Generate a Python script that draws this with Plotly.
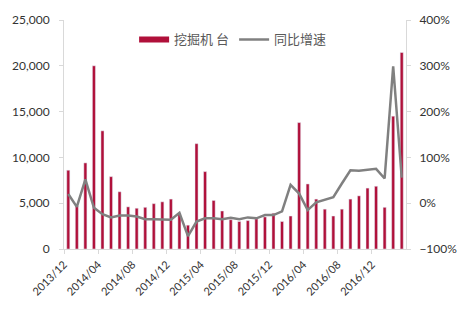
import plotly.graph_objects as go
import numpy as np

months = []
y, m = 2013, 12
for _ in range(40):
    months.append(f"{y}/{m:02d}")
    m += 1
    if m > 12:
        m = 1
        y += 1

sales = [8600, 4700, 9400, 20000, 12900, 7900, 6250, 4600, 4450, 4550,
         4950, 5150, 5450, 3900, 2600, 11500, 8450, 5300, 4150, 3200,
         3000, 3100, 3300, 3500, 3900, 3000, 3600, 13800, 7100, 5450,
         4350, 3600, 4350, 5450, 5800, 6650, 6850, 4550, 14500, 21450]

growth = [20, -8, 52, -10, -24, -31, -27, -27, -29, -35,
          -35, -35, -36, -21, -72, -40, -33, -33, -35, -32,
          -35, -31, -33, -26, -26, -18, 40, 21, -15, 2,
          8, 13, 43, 72, 71, 73, 75, 54, 299, 56]

bar_name = "挖掘机 台"
line_name = "同比增速"
bar_color = "#B0103A"
line_color = "#808080"

idx = np.arange(len(months))
tick_pos = (idx[::4] - 0.5).tolist()
tick_text = months[::4]

fig = go.Figure()
fig.add_trace(go.Bar(x=idx, y=sales, name=bar_name, marker_color=bar_color,
                     showlegend=False, yaxis="y"))
fig.add_trace(go.Scatter(x=[None], y=[None], mode="lines", name=bar_name,
                         line=dict(color=bar_color, width=6)))
fig.add_trace(go.Scatter(x=idx, y=growth, mode="lines", name=line_name,
                         line=dict(color=line_color, width=2.5), yaxis="y2"))

axis_col = "#D9D9D9"
tick_font = dict(family="Lato, Noto Sans CJK SC, sans-serif", size=12, color="#333333")

fig.update_layout(
    width=469, height=310,
    margin=dict(l=63, r=56, t=15, b=60),
    paper_bgcolor="white", plot_bgcolor="white",
    bargap=0.64,
    font=dict(family="Lato, Noto Sans CJK SC, sans-serif", size=12, color="#333333"),
    xaxis=dict(range=[-0.5, 39.5], tickmode="array", tickvals=tick_pos, ticktext=tick_text,
               tickangle=-45, showgrid=False, zeroline=False, showline=True,
               linecolor=axis_col, ticks="outside", ticklen=4, tickcolor=axis_col,
               tickfont=dict(family="Lato, Noto Sans CJK SC, sans-serif", size=11, color="#333333")),
    yaxis=dict(range=[0, 25000], dtick=5000, tickformat=",", showgrid=False, zeroline=False,
               showline=True, linecolor=axis_col, ticks="outside", ticklen=4, tickcolor=axis_col,
               ticklabelstandoff=7, tickfont=tick_font),
    yaxis2=dict(range=[-100, 400], dtick=100, ticksuffix="%", overlaying="y", side="right",
                showgrid=False, zeroline=False, showline=True, linecolor=axis_col,
                ticks="outside", ticklen=4, tickcolor=axis_col, ticklabelstandoff=6,
                tickfont=tick_font),
    legend=dict(orientation="h", x=0.205, y=0.915, xanchor="left", yanchor="middle",
                bgcolor="rgba(0,0,0,0)",
                font=dict(family="Noto Sans CJK SC, sans-serif", size=13, color="#595959"),
                entrywidth=55, entrywidthmode="pixels", itemwidth=30),
)

fig.write_html("out.html")
